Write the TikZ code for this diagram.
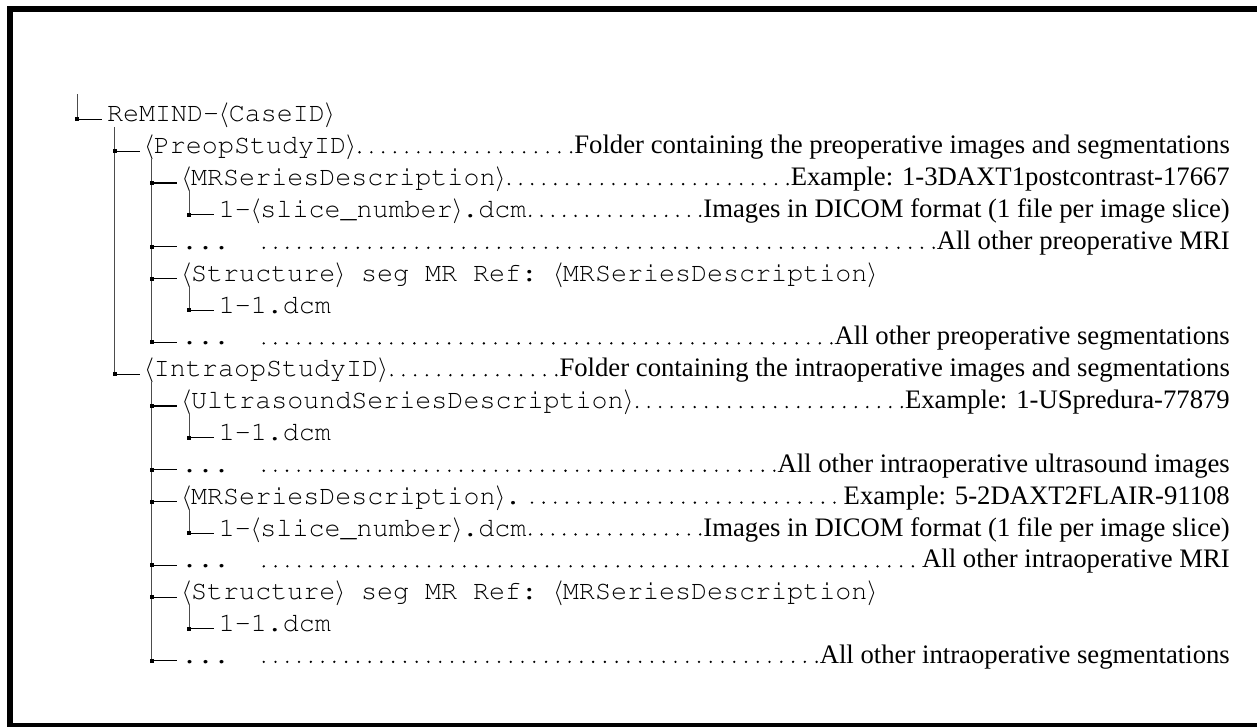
\documentclass[tikz,border=0pt]{standalone}
\usepackage[T1]{fontenc}
\usepackage{fontspec}
\setmainfont{Liberation Serif}
\newcommand\treemono{\fontencoding{T1}\fontfamily{pcr}\selectfont\frenchspacing}
\usetikzlibrary{calc}

\tikzset{
  entry/.style={anchor=base west, inner sep=0pt, text depth=4.7pt,
    font=\treemono\fontsize{26.7}{30}\selectfont},
  cmt/.style={anchor=base east, inner sep=0pt,
    font=\fontsize{26.7}{30}\selectfont},
  vl/.style={draw=black!70, line width=1.1pt},
  hl/.style={draw=black, line width=1.1pt},
  junction/.style={fill=black},
  leader/.style={draw=black, line width=2.6pt, line cap=round},
  frame/.style={draw=black, line width=6pt},
}
\newcommand\la{$\langle$}
\newcommand\ra{$\rangle$}
\newdimen\lA
\newdimen\lB
% #1 name, #2 level, #3 row, #4 text
\newcommand\tentry[4]{%
  \pgfmathsetmacro\vx{77.3+37.25*#2}%
  \pgfmathsetmacro\vy{119.3+31.85*#3}%
  \coordinate (#1j) at (\vx,\vy);
  \node[entry] (#1) at (\vx+29.5,\vy+2.7) {#4};
  \draw[hl] (#1j) -- ([xshift=-4.5pt]#1.west |- #1j);
}
% #1 entry name, #2 gap before comment, #3 gap after entry, #4 comment
\newcommand\tcomment[4]{%
  \node[cmt] (#1c) at (#1.base -| cx) {#4};
  \path ([xshift=#3]#1.base east) coordinate (#1s)
        ([xshift=-#2]#1c.base west) coordinate (#1t);
  \pgfextractx{\lA}{\pgfpointanchor{#1s}{center}}%
  \pgfextractx{\lB}{\pgfpointanchor{#1t}{center}}%
  \pgfmathsetmacro\lpitch{(\lB-\lA)/max(1,round((\lB-\lA)/11.7))}%
  \draw[leader, dash pattern=on 0pt off \lpitch pt]
    ([yshift=1.6pt]#1s) -- ([xshift=0.3pt, yshift=1.6pt]#1t);
}

\begin{document}
\begin{tikzpicture}[x=1pt, y=-1pt]
\useasboundingbox (0,0) rectangle (1257,727);
\draw[frame] (10,9.5) rectangle (1267,726);
\coordinate (cx) at (1230,0);

\tentry{e0}{0}{0}{ReMIND-\la CaseID\ra}
\tentry{e1}{1}{1}{\la PreopStudyID\ra}
\tentry{e2}{2}{2}{\la MRSeriesDescription\ra}
\tentry{e3}{3}{3}{1-\la slice\_number\ra.dcm}
\tentry{e4}{2}{4}{...}
\tentry{e5}{2}{5}{\la Structure\ra\ seg MR Ref: \la MRSeriesDescription\ra}
\tentry{e6}{3}{6}{1-1.dcm}
\tentry{e7}{2}{7}{...}
\tentry{e8}{1}{8}{\la IntraopStudyID\ra}
\tentry{e9}{2}{9}{\la UltrasoundSeriesDescription\ra}
\tentry{e10}{3}{10}{1-1.dcm}
\tentry{e11}{2}{11}{...}
\tentry{e12}{2}{12}{\la MRSeriesDescription\ra.}
\tentry{e13}{3}{13}{1-\la slice\_number\ra.dcm}
\tentry{e14}{2}{14}{...}
\tentry{e15}{2}{15}{\la Structure\ra\ seg MR Ref: \la MRSeriesDescription\ra}
\tentry{e16}{3}{16}{1-1.dcm}
\tentry{e17}{2}{17}{...}

\tcomment{e1}{3pt}{3.5pt}{Folder containing the preoperative images and segmentations}
\tcomment{e2}{3pt}{3.5pt}{Example: 1-3DAXT1postcontrast-17667}
\tcomment{e3}{3pt}{3.5pt}{Images in DICOM format (1 file per image slice)}
\tcomment{e4}{3pt}{34pt}{All other preoperative MRI}
\tcomment{e7}{3pt}{34pt}{All other preoperative segmentations}
\tcomment{e8}{3pt}{3.5pt}{Folder containing the intraoperative images and segmentations}
\tcomment{e9}{3pt}{3.5pt}{Example: 1-USpredura-77879}
\tcomment{e11}{3pt}{34pt}{All other intraoperative ultrasound images}
\tcomment{e12}{9pt}{10.5pt}{Example: 5-2DAXT2FLAIR-91108}
\tcomment{e13}{3pt}{3.5pt}{Images in DICOM format (1 file per image slice)}
\tcomment{e14}{9pt}{34pt}{All other intraoperative MRI}
\tcomment{e17}{3pt}{34pt}{All other intraoperative segmentations}

% tree verticals
\draw[vl] (e0j) -- ++(0,-25);
\draw[vl] (e8j |- e0.south) -- (e8j);
\draw[vl] (e7j |- e1.south) -- (e7j);
\draw[vl] (e3j |- e2.south) -- (e3j);
\draw[vl] (e6j |- e5.south) -- (e6j);
\draw[vl] (e17j |- e8.south) -- (e17j);
\draw[vl] (e10j |- e9.south) -- (e10j);
\draw[vl] (e13j |- e12.south) -- (e13j);
\draw[vl] (e16j |- e15.south) -- (e16j);

\foreach \n in {e0,e1,e2,e3,e4,e5,e6,e7,e8,e9,e10,e11,e12,e13,e14,e15,e16,e17}
  \fill[junction] ([shift={(-2pt,-2pt)}]\n j) rectangle ([shift={(2pt,2pt)}]\n j);
\end{tikzpicture}
\end{document}
